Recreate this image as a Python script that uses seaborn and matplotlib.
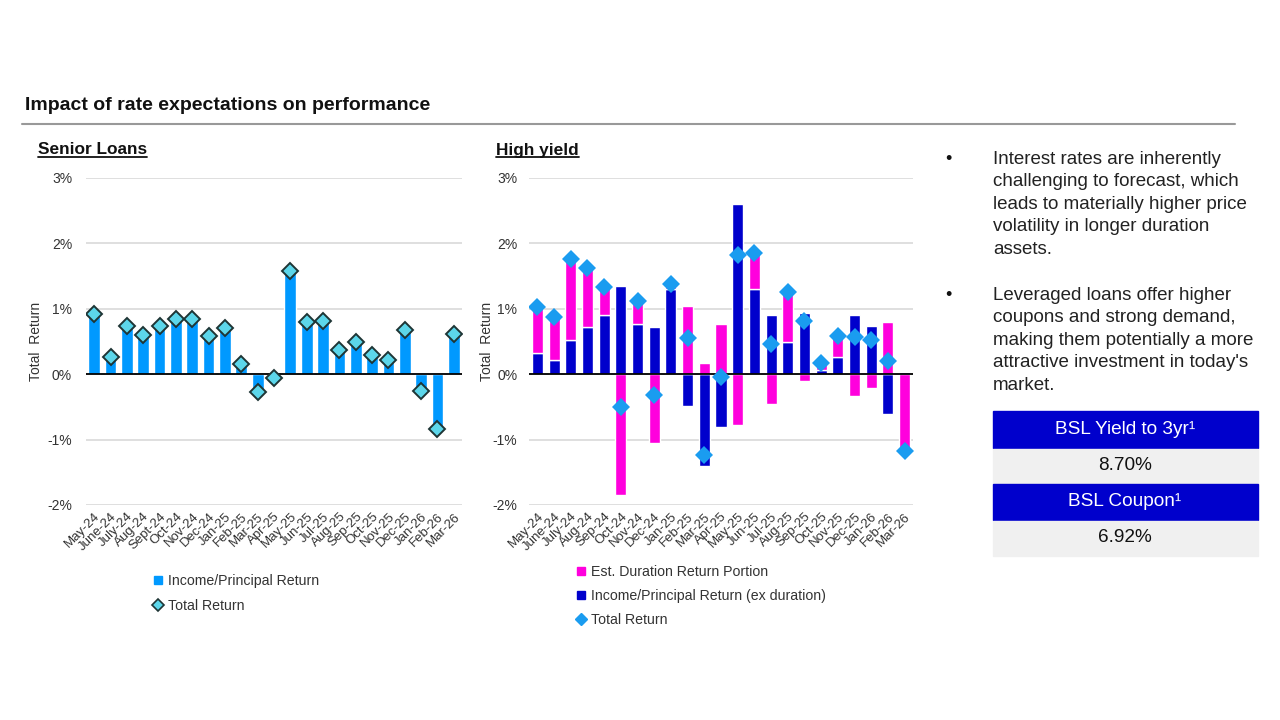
import numpy as np
import pandas as pd
import matplotlib.pyplot as plt
import seaborn as sns
from matplotlib.lines import Line2D
from matplotlib.patches import Rectangle

# Senior loans
loan_months = ["May-24", "June-24", "July-24", "Aug-24", "Sept-24", "Oct-24", "Nov-24", "Dec-24",
               "Jan-25", "Feb-25", "Mar-25", "Apr-25", "May-25", "Jun-25", "Jul-25", "Aug-25",
               "Sep-25", "Oct-25", "Nov-25", "Dec-25", "Jan-26", "Feb-26", "Mar-26"]
loan_total = [0.92, 0.26, 0.73, 0.60, 0.73, 0.84, 0.84, 0.58, 0.71, 0.15, -0.27, -0.06,
              1.58, 0.80, 0.81, 0.37, 0.49, 0.30, 0.22, 0.68, -0.26, -0.84, 0.62]

# High yield
hy_months = ["May-24", "June-24", "July-24", "Aug-24", "Sep-24", "Oct-24", "Nov-24", "Dec-24",
             "Jan-25", "Feb-25", "Mar-25", "Apr-25", "May-25", "Jun-25", "Jul-25", "Aug-25",
             "Sep-25", "Oct-25", "Nov-25", "Dec-25", "Jan-26", "Feb-26", "Mar-26"]
hy_income = [0.32, 0.21, 0.53, 0.72, 0.91, 1.35, 0.77, 0.72, 1.30, -0.48, -1.40, -0.81,
             2.61, 1.31, 0.91, 0.49, 0.94, 0.06, 0.27, 0.91, 0.73, -0.61, 0.04]
hy_duration = [0.71, 0.66, 1.23, 0.90, 0.43, -1.84, 0.35, -1.05, 0.10, 1.04, 0.17, 0.77,
               -0.78, 0.55, -0.45, 0.76, -0.11, 0.11, 0.33, -0.33, -0.21, 0.80, -1.22]
hy_total = [1.03, 0.87, 1.76, 1.62, 1.34, -0.50, 1.12, -0.32, 1.38, 0.56, -1.23, -0.04,
            1.82, 1.85, 0.46, 1.25, 0.82, 0.17, 0.59, 0.57, 0.52, 0.20, -1.18]

bullets = [
    "Interest rates are inherently\nchallenging to forecast, which\nleads to materially higher price\nvolatility in longer duration\nassets.",
    "Leveraged loans offer higher\ncoupons and strong demand,\nmaking them potentially a more\nattractive investment in today's\nmarket.",
]
stat_labels = ["BSL Yield to 3yr\u00b9", "BSL Coupon\u00b9"]
stat_values = ["8.70%", "6.92%"]

loan_color = "#0099FF"
magenta = "#FF00DD"
navy = "#0000CC"

sns.set_style("white")
plt.rcParams["font.family"] = ["Liberation Sans", "DejaVu Sans"]

W, H = 1280, 720
fig = plt.figure(figsize=(12.8, 7.2), dpi=100)


def px_axes(x0, y0, x1, y1):
    return fig.add_axes([x0 / W, 1 - y1 / H, (x1 - x0) / W, (y1 - y0) / H])


def style_axis(ax, labels, ypad, label_x):
    ax.set_xlim(-0.5, len(labels) - 0.5)
    ax.set_ylim(-2, 3)
    ax.set_yticks([-2, -1, 0, 1, 2, 3])
    ax.set_yticklabels(["-2%", "-1%", "0%", "1%", "2%", "3%"])
    ax.yaxis.grid(True, color="#d9d9d9", lw=1.2)
    ax.set_axisbelow(True)
    ax.axhline(0, color="black", lw=1.3, zorder=3)
    sns.despine(ax=ax, left=True, bottom=True)
    ax.tick_params(axis="y", length=0, labelsize=10, labelcolor="#333333", pad=ypad)
    ax.tick_params(axis="x", length=0, labelsize=9.5, labelcolor="#333333", pad=4)
    ax.set_xticks(range(len(labels)))
    ax.set_xticklabels(labels, rotation=45, ha="right", rotation_mode="anchor")
    ax.set_xlabel("")
    ax.set_ylabel("Total  Return", fontsize=10, color="#333333")
    ax.yaxis.set_label_coords(label_x, 0.5)


# ---- Senior loans ----
ax1 = px_axes(86, 178, 462, 505)
sns.barplot(x=loan_months, y=loan_total, order=loan_months, color=loan_color, saturation=1,
            width=0.72, errorbar=None, ax=ax1, zorder=2)
sns.pointplot(x=loan_months, y=loan_total, order=loan_months, markers="D", linestyles="none",
              color="#5CD6EA", errorbar=None, markersize=8, ax=ax1, zorder=5)
pts = ax1.lines[-1]
pts.set_markerfacecolor("#5CD6EA")
pts.set_markeredgecolor("#1E3535")
pts.set_markeredgewidth(1.4)
style_axis(ax1, loan_months, 10, (43 - 86) / 376)

# ---- High yield ----
ax2 = px_axes(529, 178, 913, 505)
inc = np.array(hy_income)
dur = np.array(hy_duration)
dur_base = np.where(dur >= 0, np.maximum(inc, 0), np.minimum(inc, 0))
sns.barplot(x=hy_months, y=hy_income, order=hy_months, color=navy, saturation=1,
            width=0.66, errorbar=None, ax=ax2, zorder=2)
sns.barplot(x=hy_months, y=hy_duration, order=hy_months, color=magenta, saturation=1,
            width=0.66, errorbar=None, bottom=dur_base, ax=ax2, zorder=2)
sns.pointplot(x=hy_months, y=hy_total, order=hy_months, markers="D", linestyles="none",
              color="#1A9CF0", errorbar=None, markersize=9, ax=ax2, zorder=5)
pts = ax2.lines[-1]
pts.set_markeredgecolor("#1A9CF0")
pts.set_markeredgewidth(0)
style_axis(ax2, hy_months, 8.5, (494 - 529) / 384)

# ---- legends ----
h1 = [Line2D([], [], marker="s", ls="none", color=loan_color, markersize=6),
      Line2D([], [], marker="D", ls="none", markerfacecolor="#5CD6EA", markeredgecolor="#1E3535",
             markeredgewidth=1.2, markersize=6)]
fig.legend(h1, ["Income/Principal Return", "Total Return"], loc="upper left",
           bbox_to_anchor=(154 / W, 1 - 574 / H), frameon=False, fontsize=10.2, handlelength=0.6,
           handletextpad=0.4, labelspacing=0.75, borderpad=0, borderaxespad=0, labelcolor="#333333")
h2 = [Line2D([], [], marker="s", ls="none", color=magenta, markersize=6),
      Line2D([], [], marker="s", ls="none", color=navy, markersize=6),
      Line2D([], [], marker="D", ls="none", color="#1A9CF0", markersize=6)]
fig.legend(h2, ["Est. Duration Return Portion", "Income/Principal Return (ex duration)", "Total Return"],
           loc="upper left", bbox_to_anchor=(577 / W, 1 - 565 / H), frameon=False, fontsize=10.2,
           handlelength=0.6, handletextpad=0.4, labelspacing=0.72, borderpad=0, borderaxespad=0,
           labelcolor="#333333")

# ---- titles ----
fig.text(25 / W, 1 - 106 / H, "Impact of rate expectations on performance", fontsize=14,
         fontweight="bold", va="center", ha="left", color="#111111")
fig.add_artist(Line2D([22 / W, 1235 / W], [1 - 124 / H, 1 - 124 / H], color="#999999", lw=1.5))

subs = [fig.text(38 / W, 1 - 150 / H, "Senior Loans", fontsize=12.4, fontweight="bold",
                 va="center", ha="left", color="#111111"),
        fig.text(496 / W, 1 - 150 / H, "High yield", fontsize=12.4, fontweight="bold",
                 va="center", ha="left", color="#111111")]
fig.canvas.draw()
renderer = fig.canvas.get_renderer()
for t in subs:
    bb = t.get_window_extent(renderer)
    fig.add_artist(Line2D([bb.x0 / W, bb.x1 / W], [(bb.y0 + 1) / H, (bb.y0 + 1) / H],
                          color="#111111", lw=1.3))

# ---- bullets ----
for txt, y in zip(bullets, [151, 287]):
    fig.text(948 / W, 1 - (y + 8) / H, "\u2022", fontsize=13, va="center", ha="center",
             color="#111111")
    fig.text(993 / W, 1 - y / H, txt, fontsize=13.5, va="top", ha="left", color="#222222",
             linespacing=1.42)

# ---- stats table ----
rows = [(411, 448), (448, 484), (484, 520), (520, 556)]
for i, (lab, val) in enumerate(zip(stat_labels, stat_values)):
    (a0, a1), (b0, b1) = rows[2 * i], rows[2 * i + 1]
    fig.add_artist(Rectangle((993 / W, 1 - a1 / H), 265 / W, (a1 - a0) / H, color=navy,
                             transform=fig.transFigure))
    fig.add_artist(Rectangle((993 / W, 1 - b1 / H), 265 / W, (b1 - b0 - 1) / H, color="#F0F0F0",
                             transform=fig.transFigure))
    fig.text(1125 / W, 1 - (a0 + a1) / 2 / H, lab, fontsize=13.7, color="white", ha="center", va="center")
    fig.text(1125 / W, 1 - (b0 + b1) / 2 / H, val, fontsize=13.7, color="#111111", ha="center", va="center")

fig.savefig("out.png", dpi=100)
